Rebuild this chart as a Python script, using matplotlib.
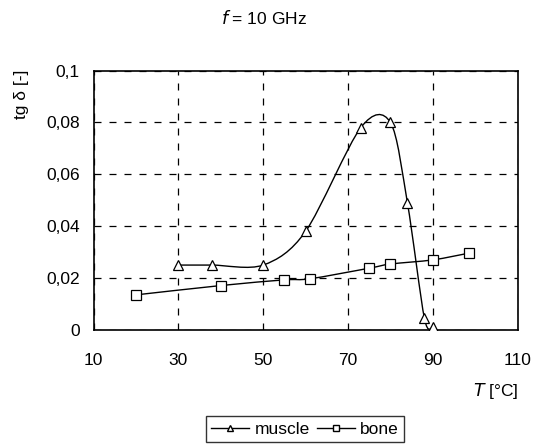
import matplotlib

matplotlib.use("Agg")
import matplotlib.pyplot as plt
from matplotlib.path import Path
from matplotlib.patches import PathPatch
from matplotlib.lines import Line2D
from matplotlib.ticker import FuncFormatter

plt.rcParams["font.family"] = ["Liberation Sans", "DejaVu Sans"]

muscle_t = [30, 38, 50, 60, 73, 80, 84, 88, 90]
muscle_tg = [0.025, 0.025, 0.025, 0.038, 0.078, 0.080, 0.049, 0.0045, 0.001]
bone_t = [20, 40, 55, 61, 75, 80, 90, 98.5]
bone_tg = [0.0135, 0.0171, 0.0193, 0.0197, 0.0238, 0.0254, 0.027, 0.0296]
x_ticks = [10, 30, 50, 70, 90, 110]
y_ticks = [0, 0.02, 0.04, 0.06, 0.08, 0.1]

FS = 12.5


def smooth_path(xs, ys, k=1 / 6.6):
    # Excel-style smoothed line: cubic Bezier segments through every point
    pts = list(zip(xs, ys))
    verts = [pts[0]]
    codes = [Path.MOVETO]
    for i in range(len(pts) - 1):
        p0 = pts[i - 1] if i > 0 else pts[i]
        p1 = pts[i]
        p2 = pts[i + 1]
        p3 = pts[i + 2] if i + 2 < len(pts) else pts[i + 1]
        c1 = (p1[0] + (p2[0] - p0[0]) * k, p1[1] + (p2[1] - p0[1]) * k)
        c2 = (p2[0] - (p3[0] - p1[0]) * k, p2[1] - (p3[1] - p1[1]) * k)
        verts += [c1, c2, p2]
        codes += [Path.CURVE4] * 3
    return Path(verts, codes)


fig = plt.figure(figsize=(5.39, 4.47), dpi=100)
ax = fig.add_axes([0.1735, 0.262, 0.787, 0.58])

for xs, ys, marker, ms in [(muscle_t, muscle_tg, "^", 7.5), (bone_t, bone_tg, "s", 6.5)]:
    ax.add_patch(PathPatch(smooth_path(xs, ys), facecolor="none", edgecolor="black",
                           linewidth=1.0, zorder=3))
    ax.plot(xs, ys, linestyle="none", marker=marker, markersize=ms,
            markerfacecolor="white", markeredgecolor="black", markeredgewidth=0.9, zorder=4)

ax.set_xlim(10, 110)
ax.set_ylim(0, 0.1)
ax.set_xticks(x_ticks)
ax.set_yticks(y_ticks)
ax.yaxis.set_major_formatter(FuncFormatter(lambda v, _: f"{v:g}".replace(".", ",")))
ax.tick_params(length=0, labelsize=FS)
ax.tick_params(axis="y", pad=10)
ax.tick_params(axis="x", pad=17)
ax.grid(color="black", linewidth=0.9, linestyle=(0, (5.6, 6.4)))
for side in ax.spines.values():
    side.set_linewidth(1.2)

fig.text(264 / 539, 1 - 18 / 447, "$f$ = 10 GHz", ha="center", va="center", fontsize=FS)
fig.text(0.04, 1 - 94 / 447, "tg δ [-]", rotation=90, ha="center", va="center", fontsize=FS)
fig.text(518 / 539, 1 - 391 / 447, "$T$ [°C]", ha="right", va="center", fontsize=FS)

handles = [
    Line2D([], [], color="black", linewidth=1.0, marker="^", markersize=5,
           markerfacecolor="white", markeredgecolor="black", label="muscle"),
    Line2D([], [], color="black", linewidth=1.0, marker="s", markersize=4.5,
           markerfacecolor="white", markeredgecolor="black", label="bone"),
]
leg = fig.legend(handles=handles, loc="lower center", bbox_to_anchor=(305 / 539, 5 / 447), ncol=2,
                 fontsize=FS, frameon=True, fancybox=False, handlelength=2.2,
                 handletextpad=0.3, columnspacing=0.4, borderpad=0.3, borderaxespad=0)
leg.get_frame().set_edgecolor("black")
leg.get_frame().set_linewidth(1.0)

fig.savefig("out.png", dpi=100)
